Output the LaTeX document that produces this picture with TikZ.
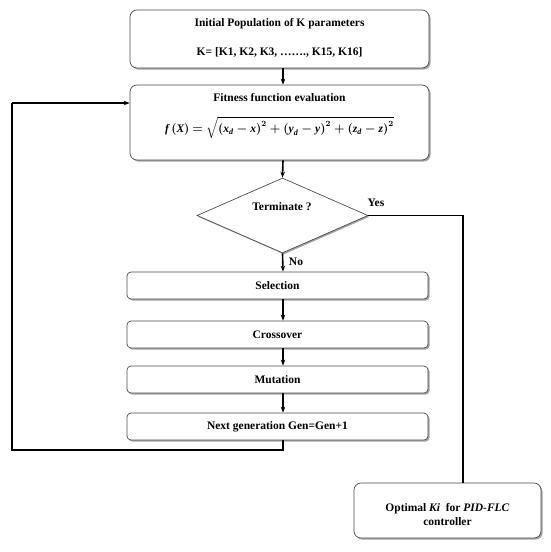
\documentclass[tikz,border=0pt]{standalone}
\usepackage{amsmath}
\usepackage{fontspec}
\setmainfont{Liberation Serif}
\usetikzlibrary{shapes.geometric,shadows,arrows.meta,calc}
\newcommand\bivar[1]{\text{\bfseries\itshape #1}}
\begin{document}
\begin{tikzpicture}[x=1pt,y=-1pt,
  box/.style={draw=black!70, line width=0.7pt, fill=white, rounded corners=7pt,
    drop shadow={shadow xshift=1.6pt, shadow yshift=-1.6pt, fill=black!45, opacity=0.8},
    inner sep=0pt},
  sbox/.style={box, rounded corners=4pt, minimum width=301pt, minimum height=27pt,
    font=\bfseries\fontsize{11.5}{13}\selectfont},
  txt/.style={font=\bfseries\fontsize{11.5}{13}\selectfont, inner sep=0pt, align=center},
  mathtxt/.style={font=\mathversion{bold}\fontsize{11.5}{13}\selectfont, inner sep=0pt},
  conn/.style={line width=1.6pt, black},
  arr/.style={conn, -{Stealth[length=6pt,width=4.5pt]}}
]
\useasboundingbox (0,0) rectangle (550,552);

% boxes
\node[box, minimum width=299pt, minimum height=58pt] (init) at (279.5,39) {};
\node[txt] (initA) at (279.5,24) {Initial Population of K parameters};
\node[txt] (initB) at (279.5,52) {K= [K1, K2, K3, \dots\dots., K15, K16]};

\node[box, minimum width=299pt, minimum height=75pt] (fit) at (279.5,122.5) {};
\node[txt] (fitA) at (279.5,98) {Fitness function evaluation};
\node[mathtxt] (fitB) at (279.5,128)
  {$\bivar{f}\,\mathbf{(}\bivar{X}\mathbf{)} \mathbin{\mathbf{=}} \sqrt{\mathbf{(}\bivar{x}_{\bivar{d}} - \bivar{x}\mathbf{)}^{\mathbf{2}} + \mathbf{(}\bivar{y}_{\bivar{d}} - \bivar{y}\mathbf{)}^{\mathbf{2}} + \mathbf{(}\bivar{z}_{\bivar{d}} - \bivar{z}\mathbf{)}^{\mathbf{2}}}$};

\node[draw=black!70, line width=0.7pt, fill=white, diamond, minimum width=171pt,
  minimum height=75pt, inner sep=0pt,
  drop shadow={shadow xshift=1.4pt, shadow yshift=-1.4pt, fill=black!45, opacity=0.8}]
  (term) at (282.5,215.5) {};
\node[txt] (termT) at (282,207) {Terminate ?};

\node[sbox] (sel) at (277.5,285.5) {Selection};
\node[sbox] (cross) at (277.5,334.5) {Crossover};
\node[sbox] (mut) at (277.5,379.5) {Mutation};
\node[sbox] (next) at (277.5,426.5) {Next generation Gen=Gen+1};

\node[box, minimum width=187pt, minimum height=55pt] (opt) at (447.5,510.5) {};
\node[txt, font=\bfseries\fontsize{11.5}{14}\selectfont] (optT) at (447.5,515)
  {Optimal \textit{Ki}\ \ for \textit{PID-FLC}\\controller};

% connector helpers
\coordinate (ax) at (283,0);
\coordinate (lx) at (12,0);
\coordinate (ly) at (0,450);
\coordinate (fy) at (0,103);
\coordinate (yx) at (463,0);

% connectors
\draw[arr] (init.south -| ax) -- (fit.north -| ax);
\draw[arr] (fit.south -| ax) -- (term.north);
\draw[arr] (term.south) -- (sel.north -| ax);
\draw[arr] (sel.south -| ax) -- (cross.north -| ax);
\draw[arr] (cross.south -| ax) -- (mut.north -| ax);
\draw[arr] (mut.south -| ax) -- (next.north -| ax);
\draw[conn] (next.south -| ax) -- (ax |- ly) -- (lx |- ly) -- (lx |- fy);
\draw[arr] (lx |- fy) -- (fit.west |- fy);
\draw[conn] (term.east) -- (term.east -| yx) -- (yx |- opt.north);

\node[txt] (yes) at (376,203) {Yes};
\node[txt] (no) at (296,262) {No};
\end{tikzpicture}
\end{document}
